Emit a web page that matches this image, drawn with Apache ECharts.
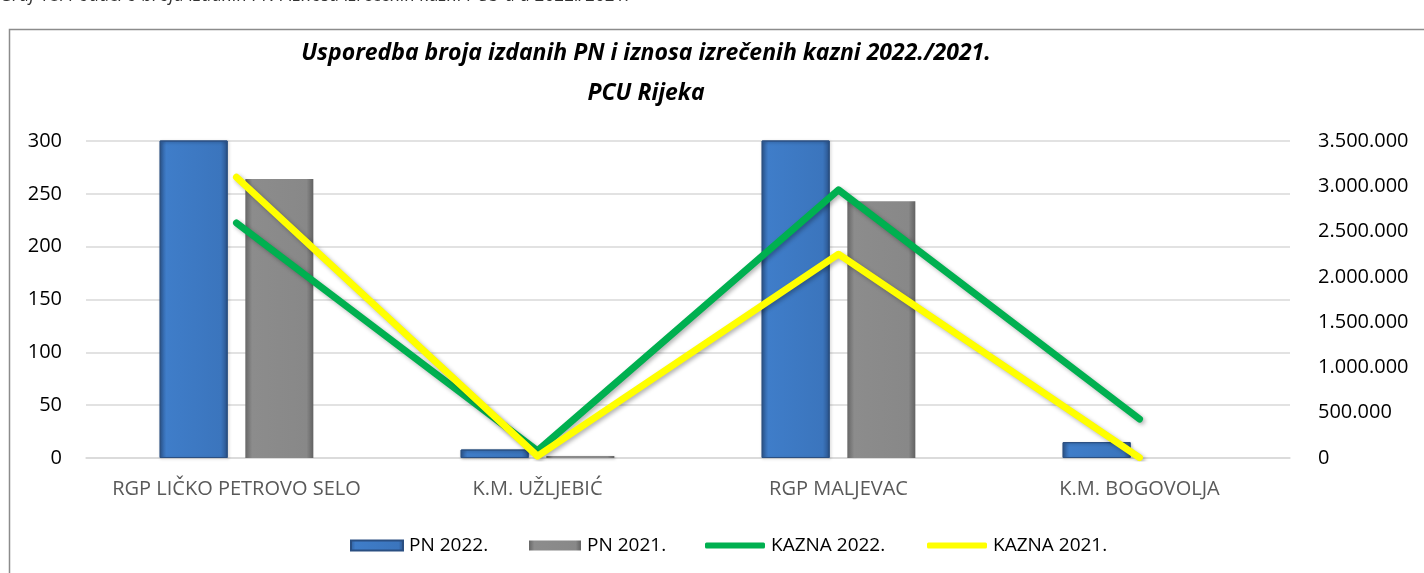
<!DOCTYPE html>
<html>
<head>
<meta charset="utf-8">
<script src="https://cdn.jsdelivr.net/npm/echarts@6/dist/echarts.min.js"></script>
<style>
  html, body { margin: 0; padding: 0; background: #fff; }
  #chart { width: 1424px; height: 573px; }
</style>
</head>
<body>
<div id="chart"></div>
<script>
const categories = ['RGP LIČKO PETROVO SELO', 'K.M. UŽLJEBIĆ', 'RGP MALJEVAC', 'K.M. BOGOVOLJA'];
const pn2022 = [310, 8, 310, 15];
const pn2021 = [264, 2, 243, 0];
const kazna2022 = [2595000, 80000, 2960000, 430000];
const kazna2021 = [3100000, 20000, 2250000, 5000];
const leftTicks = { min: 0, max: 300, interval: 50 };
const rightTicks = { min: 0, max: 3500000, interval: 500000 };

const fontFamily = '"Open Sans", "Liberation Sans", sans-serif';

// thousands with dots, like 3.500.000
const fmtDots = v => String(v).replace(/\B(?=(\d{3})+(?!\d))/g, '.');

const chart = echarts.init(document.getElementById('chart'));

// one legend per entry so each sits where it does in the original
const legendItem = (name, left, isLine) => ({
    left: left,
    top: 531,
    itemWidth: isLine ? 60 : 52,
    itemHeight: isLine ? 6 : 10,
    icon: isLine ? 'roundRect' : 'rect',
    textStyle: { fontSize: 19, color: '#000', fontFamily: fontFamily, padding: [0, 0, 0, 1] },
    data: [name]
});

const option = {
    backgroundColor: '#fff',
    textStyle: { fontFamily: fontFamily },
    graphic: [
        {
            type: 'rect',
            shape: { x: 9.5, y: 29.5, width: 1450, height: 600 },
            style: { fill: 'none', stroke: '#8c8c8c', lineWidth: 1.5 },
            silent: true,
            z: -1
        },
        {
            type: 'text',
            left: 0,
            top: -13,
            style: {
                text: 'Graf 18. Podaci o broja izdanih PN i iznosa izrečenih kazni PCU-a u 2022./2021.',
                font: 'italic 18px ' + fontFamily,
                fill: '#333'
            }
        }
    ],
    title: {
        text: 'Usporedba broja izdanih PN i iznosa izrečenih kazni 2022./2021.\nPCU Rijeka',
        left: 641,
        top: 28,
        textAlign: 'center',
        textStyle: {
            fontFamily: fontFamily,
            fontStyle: 'italic',
            fontWeight: 'bold',
            fontSize: 23,
            lineHeight: 40,
            color: '#000'
        }
    },
    legend: [
        legendItem('PN 2022.', 345, false),
        legendItem('PN 2021.', 524, false),
        legendItem('KAZNA 2022.', 700, true),
        legendItem('KAZNA 2021.', 922, true)
    ],
    grid: {
        left: 86,
        right: 134,
        top: 141,
        bottom: 115
    },
    xAxis: {
        type: 'category',
        data: categories,
        axisLine: { show: true, lineStyle: { color: '#d9d9d9', width: 1.5 } },
        axisTick: { show: false },
        axisLabel: {
            interval: 0,
            hideOverlap: false,
            fontSize: 20,
            color: '#595959',
            margin: 21,
            fontFamily: fontFamily
        }
    },
    yAxis: [
        {
            type: 'value',
            min: leftTicks.min,
            max: leftTicks.max,
            interval: leftTicks.interval,
            axisLine: { show: false },
            axisTick: { show: false },
            splitLine: { lineStyle: { color: '#d9d9d9', width: 1.5 } },
            axisLabel: { fontSize: 20, color: '#000', margin: 24, fontFamily: fontFamily }
        },
        {
            type: 'value',
            min: rightTicks.min,
            max: rightTicks.max,
            interval: rightTicks.interval,
            axisLine: { show: false },
            axisTick: { show: false },
            splitLine: { show: false },
            axisLabel: {
                fontSize: 20, color: '#000', margin: 28, fontFamily: fontFamily,
                formatter: fmtDots
            }
        }
    ],
    series: [
        {
            name: 'PN 2022.',
            type: 'bar',
            yAxisIndex: 0,
            data: pn2022,
            barWidth: 68,
            barGap: '26%',
            clip: true,
            itemStyle: {
                color: new echarts.graphic.LinearGradient(0, 0, 1, 0, [
                    { offset: 0, color: '#2f5d9a' },
                    { offset: 0.1, color: '#3f7dc9' },
                    { offset: 0.9, color: '#3b75bd' },
                    { offset: 1, color: '#2b548c' }
                ]),
                borderColor: '#2a4f82',
                borderWidth: 1,
                shadowColor: 'rgba(0,0,0,0.25)',
                shadowBlur: 3,
                shadowOffsetX: 1,
                shadowOffsetY: 1
            }
        },
        {
            name: 'PN 2021.',
            type: 'bar',
            yAxisIndex: 0,
            data: pn2021,
            barWidth: 68,
            clip: true,
            itemStyle: {
                color: new echarts.graphic.LinearGradient(0, 0, 1, 0, [
                    { offset: 0, color: '#666666' },
                    { offset: 0.1, color: '#8c8c8c' },
                    { offset: 0.9, color: '#888888' },
                    { offset: 1, color: '#626262' }
                ]),
                borderWidth: 0,
                shadowColor: 'rgba(0,0,0,0.25)',
                shadowBlur: 3,
                shadowOffsetX: 1,
                shadowOffsetY: 1
            }
        },
        {
            name: 'KAZNA 2022.',
            type: 'line',
            yAxisIndex: 1,
            data: kazna2022,
            symbol: 'none',
            color: '#00b050',
            lineStyle: {
                color: '#00b050',
                width: 7,
                cap: 'round',
                join: 'round',
                shadowColor: 'rgba(0,0,0,0.3)',
                shadowBlur: 4,
                shadowOffsetX: 2,
                shadowOffsetY: 2
            },
            z: 3
        },
        {
            name: 'KAZNA 2021.',
            type: 'line',
            yAxisIndex: 1,
            data: kazna2021,
            symbol: 'none',
            color: '#ffff00',
            lineStyle: {
                color: '#ffff00',
                width: 7,
                cap: 'round',
                join: 'round',
                shadowColor: 'rgba(0,0,0,0.3)',
                shadowBlur: 4,
                shadowOffsetX: 2,
                shadowOffsetY: 2
            },
            z: 4
        }
    ]
};

chart.setOption(option);
</script>
</body>
</html>
